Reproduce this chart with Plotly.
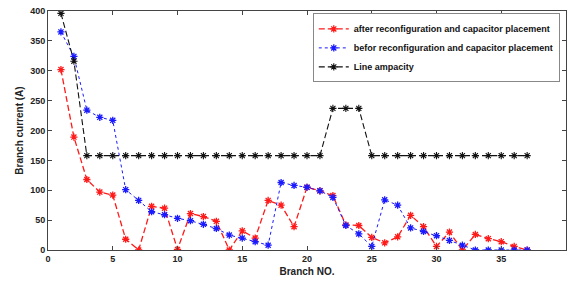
import plotly.graph_objects as go

branches = list(range(1, 38))
after_vals = [302, 189, 118, 97, 92, 18, 0, 73, 70, 1, 61, 56, 48, 0, 32, 20, 83, 75, 39,
              105, 99, 91, 42, 41, 21, 12, 22, 58, 39, 6, 30, 0, 26, 19, 14, 6, 0]
before_vals = [365, 324, 234, 222, 217, 101, 83, 64, 59, 53, 49, 43, 36, 25, 20, 14, 8, 113, 108,
               105, 99, 88, 41, 27, 6, 84, 75, 37, 31, 24, 16, 8, 0, 0, 0, 0, 0]
ampacity_vals = [396, 316] + [158] * 19 + [237, 237, 237] + [158] * 13

x_ticks = list(range(0, 41, 5))
y_ticks = list(range(0, 401, 50))

font_fam = "Liberation Sans, Arial, sans-serif"

fig = go.Figure()
fig.add_trace(go.Scatter(
    x=branches, y=after_vals, mode="lines+markers",
    name="after reconfiguration and capacitor placement",
    line=dict(color="#ff1a1a", width=1.3, dash="6px,3px"),
    marker=dict(symbol="asterisk-open", size=6, color="#ff1a1a", line=dict(width=1.3, color="#ff1a1a")),
))
fig.add_trace(go.Scatter(
    x=branches, y=before_vals, mode="lines+markers",
    name="befor reconfiguration and capacitor placement",
    line=dict(color="#1a1aff", width=1, dash="dot"),
    marker=dict(symbol="asterisk-open", size=6, color="#1a1aff", line=dict(width=1.3, color="#1a1aff")),
))
fig.add_trace(go.Scatter(
    x=branches, y=ampacity_vals, mode="lines+markers",
    name="Line ampacity",
    line=dict(color="#111111", width=1.1, dash="6px,3px"),
    marker=dict(symbol="asterisk-open", size=6, color="#111111", line=dict(width=1.1, color="#111111")),
))

fig.update_layout(
    width=571, height=282,
    margin=dict(l=48, r=5, t=11, b=32),
    paper_bgcolor="white", plot_bgcolor="white",
    font=dict(family=font_fam, size=9, color="#222222"),
    showlegend=True,
    legend=dict(
        x=0.988, y=0.99, xanchor="right", yanchor="top",
        bgcolor="white", bordercolor="#888888", borderwidth=1,
        font=dict(family=font_fam, size=9, color="#111111", weight="bold"),
        tracegroupgap=0, itemwidth=30,
    ),
)
fig.update_xaxes(
    range=[0, 40], tickvals=x_ticks, ticktext=[str(v) for v in x_ticks],
    showgrid=False, zeroline=False,
    showline=True, linecolor="#444444", linewidth=1, mirror="ticks",
    ticks="inside", ticklen=4, tickcolor="#444444",
    tickfont=dict(family=font_fam, size=9, color="#222222", weight="bold"),
    title=dict(text="Branch NO.", font=dict(family=font_fam, size=10, color="#222222", weight="bold"), standoff=5),
)
fig.update_yaxes(
    range=[0, 400], tickvals=y_ticks, ticktext=[str(v) for v in y_ticks],
    showgrid=False, zeroline=False,
    showline=True, linecolor="#444444", linewidth=1, mirror="ticks",
    ticks="inside", ticklen=4, tickcolor="#444444",
    tickfont=dict(family=font_fam, size=9, color="#222222", weight="bold"),
    title=dict(text="Branch current (A)", font=dict(family=font_fam, size=10, color="#222222", weight="bold"), standoff=4),
)

fig.write_html("out.html", config={"displayModeBar": False},
               post_script="document.body.style.margin='0';")
